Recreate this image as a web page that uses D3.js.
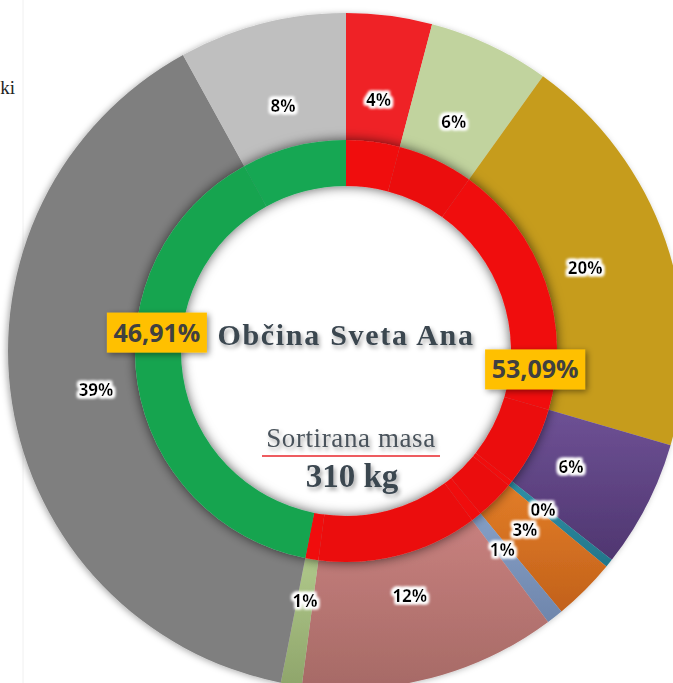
<!DOCTYPE html>
<html>
<head>
<meta charset="utf-8">
<script src="https://cdn.jsdelivr.net/npm/d3@7"></script>
<style>
  html, body { margin: 0; padding: 0; background: #fff; }
  svg { display: block; }
</style>
</head>
<body>
<div id="chart"></div>
<script>
// outer ring: share of each fraction (in %), clockwise from 12 o'clock
const categories = ["f1", "f2", "f3", "f4", "f5", "f6", "f7", "f8", "f9", "f10", "f11"];
const outerValues = [4.1, 5.8, 19.6, 6.1, 0.4, 3.0, 0.8, 12.29, 1.0, 38.9, 8.01];
const outerLabels = ["4%", "6%", "20%", "6%", "0%", "3%", "1%", "12%", "1%", "39%", "8%"];
// inner ring: which group each fraction belongs to
const groupOf = [0, 0, 0, 0, 0, 0, 0, 0, 0, 1, 1];
const innerValues = [53.09, 46.91];
const innerLabels = ["53,09%", "46,91%"];

const title = "Občina Sveta Ana";
const subTitle = "Sortirana masa";
const totalLabel = "310 kg";

const colorTop = ["#ef2026", "#c1d39e", "#c69c1e", "#6e5195", "#2f8fa5", "#e27d27", "#859fc6", "#c8807e", "#afc88a", "#7f7f7f", "#bfbfbf"];
const colorBottom = ["#ef2026", "#c1d39e", "#c69c1e", "#4f3670", "#23768a", "#c2611b", "#6f86ac", "#a66a66", "#8fa56b", "#7f7f7f", "#bfbfbf"];
const groupColors = ["#ee0b0b", "#14a651"];

const width = 673, height = 683;
const cx = 346, cy = 351;
const rOuter = 338, rMid = 211, rInner = 165;

const svg = d3.select("#chart").append("svg")
    .attr("width", width)
    .attr("height", height);

const defs = svg.append("defs");

function shadow(id, dx, dy, sd, op) {
    defs.append("filter")
        .attr("id", id)
        .attr("x", "-30%").attr("y", "-30%")
        .attr("width", "160%").attr("height", "160%")
        .append("feDropShadow")
        .attr("dx", dx).attr("dy", dy)
        .attr("stdDeviation", sd)
        .attr("flood-color", "#000")
        .attr("flood-opacity", op);
}
shadow("ringShadow", 0, 0, 6, 0.65);
shadow("outerShadow", -2, 1, 3, 0.3);
shadow("textShadow", 2, 3, 2, 0.35);
shadow("boxShadow", 2, 2, 3, 0.45);

// white glow round the small labels
const glow = defs.append("filter").attr("id", "glow")
    .attr("x", "-30%").attr("y", "-30%").attr("width", "160%").attr("height", "160%");
glow.append("feMorphology").attr("in", "SourceAlpha").attr("operator", "dilate").attr("radius", 2).attr("result", "d");
glow.append("feGaussianBlur").attr("in", "d").attr("stdDeviation", 1.5).attr("result", "b");
glow.append("feFlood").attr("flood-color", "#fff");
glow.append("feComposite").attr("in2", "b").attr("operator", "in").attr("result", "w");
const gm = glow.append("feMerge");
gm.append("feMergeNode").attr("in", "w");
gm.append("feMergeNode").attr("in", "w");
gm.append("feMergeNode").attr("in", "SourceGraphic");

categories.forEach((c, i) => {
    const g = defs.append("linearGradient")
        .attr("id", "grad" + i)
        .attr("x1", 0).attr("y1", 0).attr("x2", 0).attr("y2", 1);
    g.append("stop").attr("offset", "0%").attr("stop-color", colorTop[i]);
    g.append("stop").attr("offset", "100%").attr("stop-color", colorBottom[i]);
});

// faint frame line and cut-off legend text on the left
svg.append("line")
    .attr("x1", 23).attr("x2", 23).attr("y1", 0).attr("y2", height)
    .attr("stroke", "#f0f0f0");
svg.append("text")
    .attr("x", 15).attr("y", 94)
    .attr("text-anchor", "end")
    .attr("font-family", "Liberation Serif")
    .attr("font-size", 19)
    .attr("fill", "#222")
    .text("ki");

const g = svg.append("g").attr("transform", "translate(" + cx + "," + cy + ")");

const pie = d3.pie().sort(null).value(d => d);
const outerArcs = pie(outerValues);
const innerArcs = pie(innerValues);

const arcOuter = d3.arc().innerRadius(rMid).outerRadius(rOuter);
const arcInner = d3.arc().innerRadius(rInner).outerRadius(rMid);
const arcLabel = d3.arc().innerRadius(253).outerRadius(253);
const arcBox = d3.arc().innerRadius(190).outerRadius(190);

// outer ring
g.append("g")
    .attr("filter", "url(#outerShadow)")
    .selectAll("path")
    .data(outerArcs)
    .enter()
    .append("path")
    .attr("d", arcOuter)
    .attr("fill", (d, i) => "url(#grad" + i + ")");

// inner ring, one piece per fraction in the colour of its group
g.append("g")
    .attr("filter", "url(#ringShadow)")
    .selectAll("path")
    .data(outerArcs)
    .enter()
    .append("path")
    .attr("d", arcInner)
    .attr("fill", (d, i) => {
        const c = d3.color(groupColors[groupOf[i]]);
        return i % 2 ? c.darker(0.03) : c.brighter(0.02);
    });

// percentage labels of the outer ring
g.selectAll("text.pct")
    .data(outerArcs)
    .enter()
    .append("text")
    .attr("class", "pct")
    .attr("transform", d => "translate(" + arcLabel.centroid(d) + ")")
    .attr("text-anchor", "middle")
    .attr("dy", "0.36em")
    .attr("font-family", "Open Sans")
    .attr("font-weight", "bold")
    .attr("font-size", 17)
    .attr("fill", "#000")
    .attr("filter", "url(#glow)")
    .text((d, i) => outerLabels[i]);

// centre texts
g.append("text")
    .attr("x", 0).attr("y", -6)
    .attr("text-anchor", "middle")
    .attr("font-family", "Liberation Serif")
    .attr("font-weight", "bold")
    .attr("font-size", 30)
    .attr("letter-spacing", 1.7)
    .attr("fill", "#3b4650")
    .attr("filter", "url(#textShadow)")
    .text(title);

g.append("text")
    .attr("x", 5).attr("y", 96)
    .attr("text-anchor", "middle")
    .attr("font-family", "Liberation Serif")
    .attr("font-size", 27)
    .attr("letter-spacing", 0.6)
    .attr("fill", "#4a535b")
    .attr("filter", "url(#textShadow)")
    .text(subTitle);

g.append("line")
    .attr("x1", -84).attr("x2", 94)
    .attr("y1", 105).attr("y2", 105)
    .attr("stroke", "#e8262b")
    .attr("stroke-width", 1.5);

g.append("text")
    .attr("x", 6).attr("y", 136)
    .attr("text-anchor", "middle")
    .attr("font-family", "Liberation Serif")
    .attr("font-weight", "bold")
    .attr("font-size", 33)
    .attr("fill", "#3b4650")
    .attr("filter", "url(#textShadow)")
    .text(totalLabel);

// yellow boxes with the group shares
const boxes = g.selectAll("g.box")
    .data(innerArcs)
    .enter()
    .append("g")
    .attr("class", "box")
    .attr("transform", d => "translate(" + arcBox.centroid(d) + ")");

boxes.append("rect")
    .attr("x", -50).attr("y", -20)
    .attr("width", 100).attr("height", 40)
    .attr("fill", "#ffc000")
    .attr("filter", "url(#boxShadow)");

boxes.append("text")
    .attr("text-anchor", "middle")
    .attr("dy", "0.36em")
    .attr("font-family", "Open Sans")
    .attr("font-weight", "bold")
    .attr("font-size", 25)
    .attr("fill", "#404040")
    .text((d, i) => innerLabels[i]);
</script>
</body>
</html>
